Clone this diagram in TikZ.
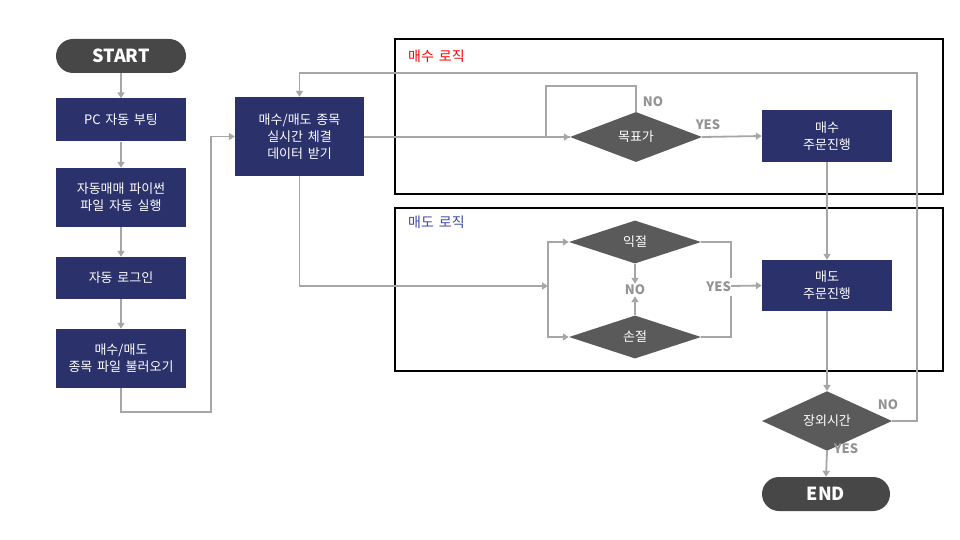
\documentclass[tikz,border=0pt]{standalone}
\usepackage{fontspec}
\setmainfont[WordSpace=1.6]{Noto Sans CJK KR}
\usetikzlibrary{shapes.geometric,arrows.meta,positioning}
\definecolor{navy}{HTML}{2B316B}
\definecolor{dgray}{HTML}{474747}
\definecolor{dia}{HTML}{5A5A5A}
\definecolor{conn}{HTML}{A6A6A6}
\definecolor{lbl}{HTML}{939393}
\definecolor{sellblue}{HTML}{3B47A0}
\tikzset{
  stepbox/.style={draw=none, fill=navy, text=white, minimum width=130pt, inner sep=0pt, align=center, font=\fontsize{13}{17}\selectfont},
  term/.style={fill=dgray, text=white, rounded corners=17pt, minimum width=130pt, minimum height=34pt, inner sep=0pt, font=\fontsize{18}{20}\selectfont\bfseries},
  decide/.style={diamond, fill=dia, text=white, inner sep=0pt, minimum width=132pt, minimum height=50pt, font=\fontsize{13}{15}\selectfont},
  conline/.style={draw=conn, line width=1.8pt},
  arr/.style={conline, -{Triangle[length=6pt,width=7pt]}},
  yn/.style={text=lbl, font=\fontsize{13}{15}\selectfont\bfseries, inner sep=1pt},
  frame/.style={draw=black, line width=2pt},
  ftitle/.style={font=\fontsize{14}{16}\selectfont, anchor=west, inner sep=0pt}
}
\begin{document}
\begin{tikzpicture}[x=1pt,y=-1pt]
\useasboundingbox (0,0) rectangle (960,540);
% frames
\draw[frame] (395,39) rectangle (943,194);
\draw[frame] (395,208) rectangle (943,371);
\node[ftitle, text=red] (buyT) at (408,56) {매수 로직};
\node[ftitle, text=sellblue] (sellT) at (408,222) {매도 로직};
% left column
\node[term] (start) at (121,56) {START};
\node[stepbox, minimum height=43pt] (boot) at (121,120) {PC 자동 부팅};
\node[stepbox, minimum height=59pt] (py) at (121,197.5) {자동매매 파이썬\\파일 자동 실행};
\node[stepbox, minimum height=42pt] (login) at (121,278) {자동 로그인};
\node[stepbox, minimum height=59pt] (load) at (121,358.5) {매수/매도\\종목 파일 불러오기};
% data box
\node[stepbox, minimum width=129pt, minimum height=79pt] (data) at (299.5,136.5) {매수/매도 종목\\실시간 체결\\데이터 받기};
% decisions
\node[decide] (goal) at (636,137) {목표가};
\node[stepbox, minimum height=52pt] (buy) at (827,136) {매수\\주문진행};
\node[decide, minimum height=43pt] (take) at (635,242) {익절};
\node[decide, minimum height=43pt] (stop) at (635,337) {손절};
\node[stepbox, minimum height=51pt] (sell) at (827,285.5) {매도\\주문진행};
\node[decide, minimum width=130pt, minimum height=46pt] (ooh) at (827,421) {장외시간};
\node[term, minimum width=128pt] (end) at (826,494) {END};
% left column connectors
\draw[arr] (start) -- (boot);
\draw[arr] (boot) -- (py);
\draw[arr] (py) -- (login);
\draw[arr] (login) -- (load);
\coordinate (c1) at (121,412);
\coordinate (c2) at (211,412);
\draw[arr] (load.south) -- (c1) -- (c2) |- (data.west);
% loop from market-hours NO
\coordinate (loopR) at (917,73);
\draw[arr] (ooh.east) -| (loopR) -| (data.north);
% to goal
\draw[arr] (data.east |- goal.west) -- (goal.west);
\coordinate (nl) at (546,86);
\draw[conline] (goal.north) |- (nl) |- (goal.west);
\node[yn] (no1) at (653,102) {NO};
\draw[arr] (goal.east) -- (buy.west);
\node[yn] (yes1) at (708,125) {YES};
\draw[arr] (buy.south) -- (sell.north);
% sell logic
\coordinate (split) at (548,286);
\draw[arr] (data.south) |- (split);
\draw[arr] (split) |- (take.west);
\draw[arr] (split) |- (stop.west);
\node[yn] (no2) at (635,290) {NO};
\draw[arr] (take.south) -- (no2.north);
\draw[arr] (stop.north) -- (no2.south);
\coordinate (ym) at (731,286);
\draw[conline] (take.east) -| (ym);
\draw[conline] (stop.east) -| (ym);
\node[yn, fill=white, anchor=east, inner xsep=2pt, inner ysep=4pt] (yes2) at (733,287) {YES};
\draw[arr] (ym) -- (sell.west);
% bottom
\draw[arr] (sell.south) -- (ooh.north);
\node[yn] (no3) at (888,405) {NO};
\draw[arr] (ooh.south) -- (end.north);
\node[yn] (yes3) at (846,449) {YES};
\end{tikzpicture}
\end{document}
